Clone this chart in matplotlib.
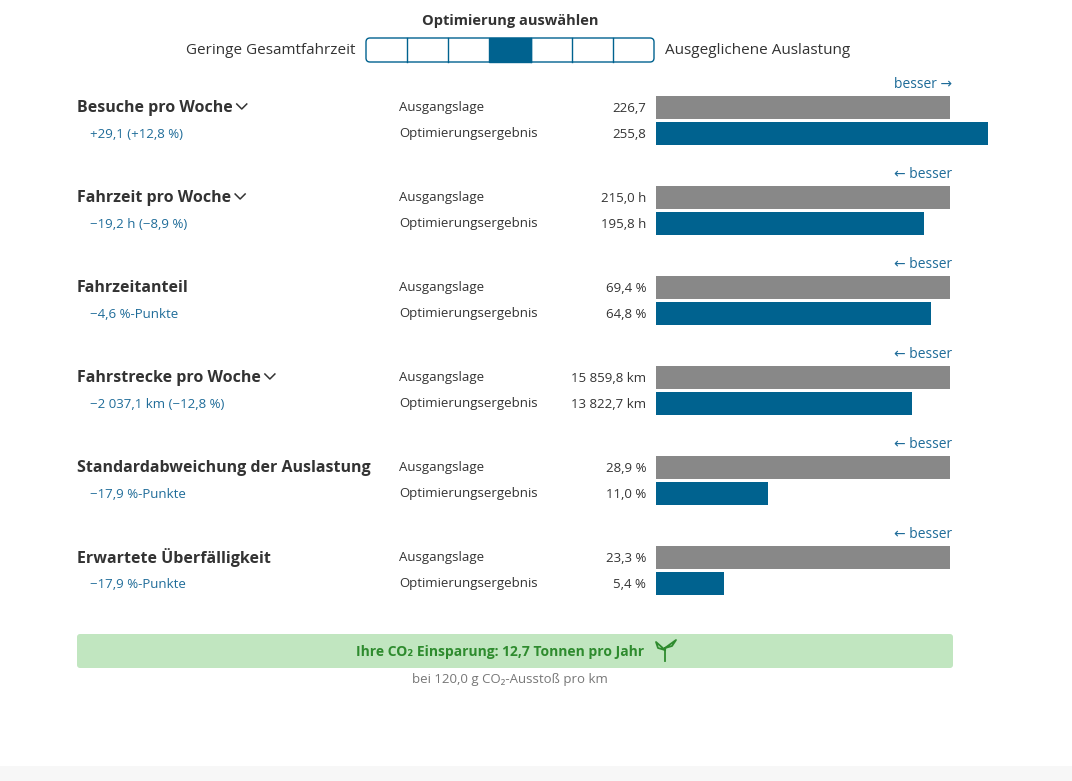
import matplotlib.pyplot as plt
from matplotlib.patches import Rectangle, FancyBboxPatch

plt.rcParams['font.family'] = ['Open Sans', 'DejaVu Sans']

titles = ["Besuche pro Woche", "Fahrzeit pro Woche", "Fahrzeitanteil",
          "Fahrstrecke pro Woche", "Standardabweichung der Auslastung", "Erwartete Überfälligkeit"]
chevron = [True, True, False, True, False, False]
deltas = ["+29,1 (+12,8 %)", "\u221219,2 h (\u22128,9 %)", "\u22124,6 %-Punkte",
          "\u22122 037,1 km (\u221212,8 %)", "\u221217,9 %-Punkte", "\u221217,9 %-Punkte"]
base_vals = [226.7, 215.0, 69.4, 15859.8, 28.9, 23.3]
opt_vals = [255.8, 195.8, 64.8, 13822.7, 11.0, 5.4]
base_lbl = ["226,7", "215,0 h", "69,4 %", "15 859,8 km", "28,9 %", "23,3 %"]
opt_lbl = ["255,8", "195,8 h", "64,8 %", "13 822,7 km", "11,0 %", "5,4 %"]
better = ["besser \u2192", "\u2190 besser", "\u2190 besser", "\u2190 besser", "\u2190 besser", "\u2190 besser"]
n_steps = 7
selected = 3

dark = "#333333"
blue_t = "#1f6c99"
blue_b = "#00628f"
gray_b = "#888888"

fig = plt.figure(figsize=(10.72, 7.81), dpi=100)
ax = fig.add_axes([0, 0, 1, 1])
ax.set_xlim(0, 1072)
ax.set_ylim(781, 0)
ax.axis("off")

# selector
ax.text(510, 21, "Optimierung auswählen", ha="center", va="center", fontsize=10.5, fontweight="bold", color=dark)
ax.text(356, 50, "Geringe Gesamtfahrzeit", ha="right", va="center", fontsize=11, color=dark)
ax.text(665, 50, "Ausgeglichene Auslastung", ha="left", va="center", fontsize=11, color=dark)
x0, x1 = 366, 654
w = (x1 - x0) / n_steps
ax.add_patch(FancyBboxPatch((x0, 38), x1 - x0, 24, boxstyle="round,pad=0,rounding_size=4",
                            fc="white", ec=blue_b, lw=1))
for i in range(n_steps):
    if i == selected:
        ax.add_patch(Rectangle((x0 + i * w, 38), w, 24, fc=blue_b, ec=blue_b, lw=1))
    elif i > 0:
        ax.plot([x0 + i * w] * 2, [38, 62], color=blue_b, lw=1)

bar_x = 656
bar_scale = 294
fig.canvas.draw()
r = fig.canvas.get_renderer()
for i in range(len(titles)):
    y = 107 + 90 * i
    t = ax.text(77, y + 1, titles[i], ha="left", va="center", fontsize=11.5, fontweight="bold", color=dark)
    if chevron[i]:
        bb = t.get_window_extent(r)
        cx = bb.x1 + 9
        ax.plot([cx - 5, cx, cx + 5], [y - 3, y + 2, y - 3], color=dark, lw=1.1)
    ax.text(90, y + 27, deltas[i], ha="left", va="center", fontsize=9.5, color=blue_t)
    ax.text(399, y + 1, "Ausgangslage", ha="left", va="center", fontsize=9.5, color=dark)
    ax.text(399, y + 27, "Optimierungsergebnis", ha="left", va="center", fontsize=9.5, color=dark)
    ax.text(646, y + 1, base_lbl[i], ha="right", va="center", fontsize=9.5, color=dark)
    ax.text(646, y + 27, opt_lbl[i], ha="right", va="center", fontsize=9.5, color=dark)
    ax.barh(y, bar_scale, left=bar_x, height=23, color=gray_b)
    ax.barh(y + 26, bar_scale * opt_vals[i] / base_vals[i], left=bar_x, height=23, color=blue_b)
    ax.text(952, y - 22, better[i], ha="right", va="center", fontsize=10, color=blue_t)

# CO2 box
ax.add_patch(FancyBboxPatch((77, 634), 876, 34, boxstyle="round,pad=0,rounding_size=3",
                            fc="#c1e6c0", ec="none"))
ax.text(500, 652, "Ihre CO\u2082 Einsparung: 12,7 Tonnen pro Jahr", ha="center", va="center",
        fontsize=10, fontweight="bold", color="#2e8b2e")
# leaf icon
ax.plot([665, 665], [661, 648], color="#2e8b2e", lw=1.3)
ax.plot([665, 658, 656, 665], [650, 648, 642, 650], color="#2e8b2e", lw=1.3)
ax.plot([665, 672, 676, 665], [648, 646, 640, 648], color="#2e8b2e", lw=1.3)
ax.text(510, 680, "bei 120,0 g CO\u2082-Ausstoß pro km", ha="center", va="center", fontsize=9.5, color="#777777")
ax.add_patch(Rectangle((0, 766), 1072, 15, fc="#f7f7f7", ec="none"))

fig.savefig("out.png", dpi=100)
